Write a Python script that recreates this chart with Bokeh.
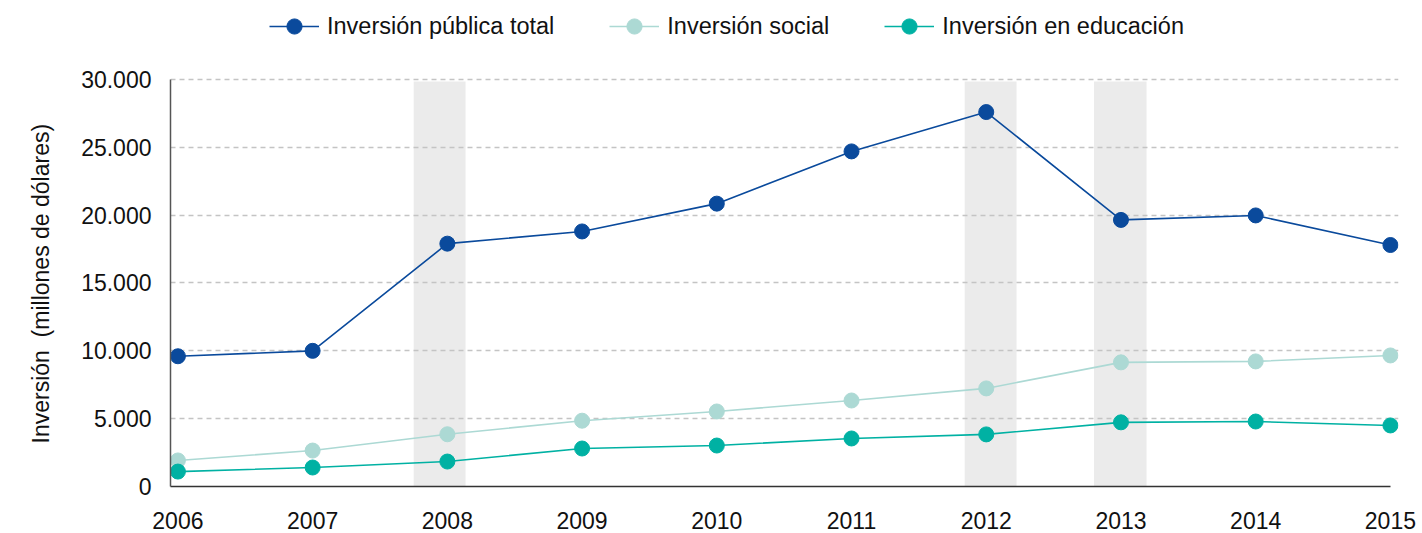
from bokeh.plotting import figure
from bokeh.models import Range1d, Legend, LegendItem, FixedTicker, ColumnDataSource, Title
from bokeh.embed import file_html
from bokeh.resources import INLINE

years = [2006, 2007, 2008, 2009, 2010, 2011, 2012, 2013, 2014, 2015]
inv_total = [9600, 10000, 17900, 18800, 20850, 24700, 27600, 19650, 19980, 17800]
inv_social = [1920, 2650, 3850, 4850, 5530, 6340, 7230, 9150, 9220, 9660]
inv_educ = [1100, 1400, 1840, 2800, 3020, 3540, 3840, 4730, 4790, 4500]

band_left = [2007.75, 2011.84, 2012.80]
band_right = [2008.135, 2012.225, 2013.19]
band_top = [29850, 29850, 29850]
band_bottom = [0, 0, 0]

y_ticks = [0, 5000, 10000, 15000, 20000, 25000, 30000]
y_tick_labels = ["0", "5.000", "10.000", "15.000", "20.000", "25.000", "30.000"]

names = ["Inversión pública total", "Inversión social", "Inversión en educación"]
colors = ["#0a4a9c", "#acd9d4", "#00b1a3"]
y_title = "Inversión\u00a0 (millones de dólares)"

FONT = "Liberation Sans"

X0, X1 = 2005.945, 2015.06
# frame spans full height above the axis; axis extents limited with bounds
p = figure(width=1422, height=533, output_backend="svg", toolbar_location=None,
           x_range=Range1d(X0, X1), y_range=Range1d(0, 35823),
           min_border_left=166, min_border_right=24, min_border_top=0, min_border_bottom=47)
p.outline_line_color = None
p.background_fill_color = "white"

p.quad(left=band_left, right=band_right, top=band_top, bottom=band_bottom,
       fill_color="#ebebeb", line_color=None, level="image")

p.xgrid.visible = False
p.ygrid.grid_line_color = "#c4c4c4"
p.ygrid.grid_line_dash = "5 4"
p.ygrid.grid_line_width = 1.5
p.ygrid.ticker = FixedTicker(ticks=y_ticks)

p.yaxis.ticker = FixedTicker(ticks=y_ticks)
p.yaxis.major_label_overrides = dict(zip(y_ticks, y_tick_labels))
p.yaxis.bounds = (0, 30000)
p.xaxis.ticker = FixedTicker(ticks=years)
p.xaxis.major_label_overrides = {y: str(y) for y in years}
p.xaxis.bounds = (X0, years[-1])

for ax in (p.xaxis[0], p.yaxis[0]):
    ax.major_tick_line_color = None
    ax.minor_tick_line_color = None
    ax.major_label_text_font = FONT
    ax.major_label_text_font_size = "23px"
    ax.major_label_text_color = "#111111"
    ax.axis_line_width = 1.5

p.yaxis.axis_line_color = "#555555"
p.xaxis.axis_line_color = "#333333"
p.yaxis.major_label_standoff = 13
p.xaxis.major_label_standoff = 19

title = Title(text=y_title, align="left", offset=43, standoff=50,
              text_font=FONT, text_font_size="23px", text_font_style="normal",
              text_color="#111111")
p.add_layout(title, "left")

items = []
for name, vals, col in zip(names, [inv_total, inv_social, inv_educ], colors):
    src = ColumnDataSource(dict(x=years, y=vals))
    l = p.line("x", "y", source=src, line_color=col, line_width=1.6)
    s = p.scatter("x", "y", source=src, size=15, fill_color=col, line_color=col)
    items.append(LegendItem(label=name, renderers=[l, s]))

legend = Legend(items=items, orientation="horizontal", location=(99, 441),
                label_text_font=FONT, label_text_font_size="23.5px",
                label_text_color="#111111", glyph_width=50, glyph_height=38,
                label_standoff=8, spacing=55, border_line_color=None,
                background_fill_alpha=0, padding=4, margin=0)
p.add_layout(legend, "center")

open("out.html", "w").write(file_html(p, INLINE))
